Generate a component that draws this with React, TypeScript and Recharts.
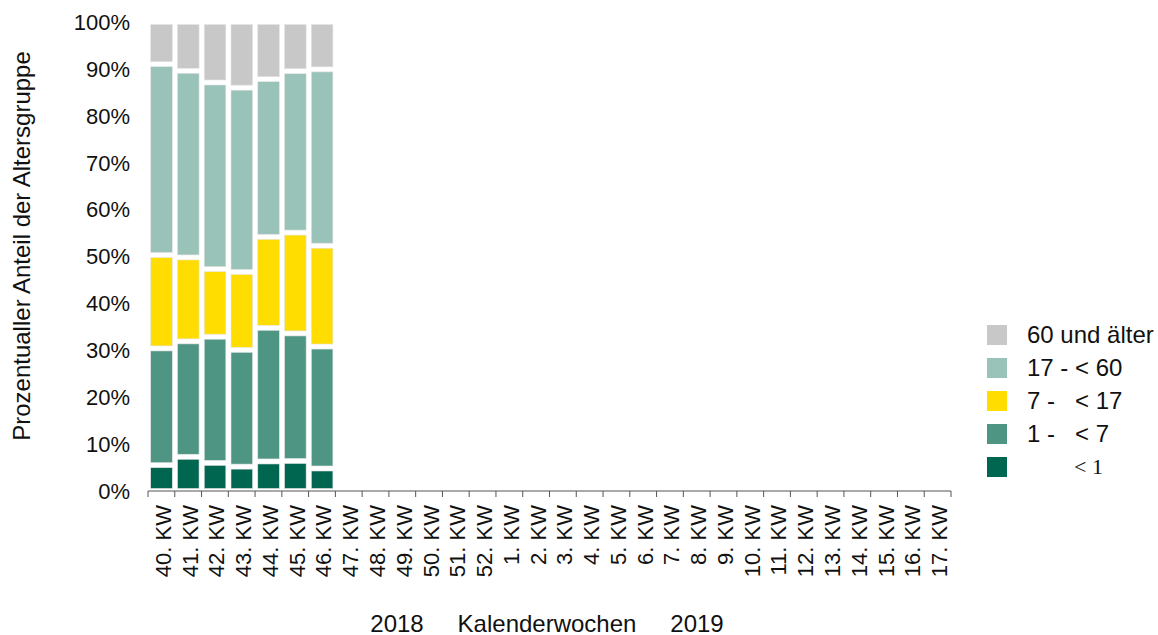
import { BarChart, Bar, XAxis, YAxis } from "recharts";

const WEEKS = [
    "40. KW", "41. KW", "42. KW", "43. KW", "44. KW", "45. KW", "46. KW", "47. KW", "48. KW",
    "49. KW", "50. KW", "51. KW", "52. KW", "1. KW", "2. KW", "3. KW", "4. KW", "5. KW", "6. KW",
    "7. KW", "8. KW", "9. KW", "10. KW", "11. KW", "12. KW", "13. KW", "14. KW", "15. KW",
    "16. KW", "17. KW",
];

// shares in % per age group, only first seven weeks reported
const UNDER_1 = [5.5, 7.3, 6.0, 5.2, 6.3, 6.4, 4.8];
const AGE_1_7 = [24.9, 24.6, 26.9, 24.9, 28.5, 27.2, 26.0];
const AGE_7_17 = [19.9, 17.9, 14.4, 16.6, 19.4, 21.5, 21.5];
const AGE_17_60 = [40.7, 39.8, 39.8, 39.3, 33.6, 34.4, 37.6];
const AGE_60_PLUS = [9.0, 10.4, 12.9, 14.0, 12.2, 10.5, 10.1];

const Y_TICKS = [0, 10, 20, 30, 40, 50, 60, 70, 80, 90, 100];

const SERIES = [
    { key: "u1", label: "< 1", color: "#006650", values: UNDER_1 },
    { key: "a1", label: "1 -   < 7", color: "#4f9584", values: AGE_1_7 },
    { key: "a7", label: "7 -   < 17", color: "#ffdd00", values: AGE_7_17 },
    { key: "a17", label: "17 - < 60", color: "#99c2b8", values: AGE_17_60 },
    { key: "a60", label: "60 und älter", color: "#c8c8c8", values: AGE_60_PLUS },
];

const data = WEEKS.map((week, i) => {
    const row: Record<string, string | number | null> = { week };
    SERIES.forEach((s) => {
        row[s.key] = s.values[i] ?? null;
    });
    return row;
});

const FONT = '"Liberation Sans", Arial, sans-serif';
const W = 1158;
const H = 635;
const M = { top: 22, right: 207, left: 78, bottom: 0 };
const Y_W = 70;
const PLOT_W = W - M.left - M.right - Y_W;
const BAND = PLOT_W / WEEKS.length;

const GapBar = (props: any) => {
    const { x, y, width, height, fill } = props;
    if (!height || height <= 0) return null;
    return (
        <rect
            x={x + 2.7}
            y={y + 2.5}
            width={Math.max(0, width - 5.4)}
            height={Math.max(0, height - 5)}
            fill={fill}
            stroke="#e4e4e4"
            strokeWidth={0.6}
        />
    );
};

const WeekTick = (props: any) => {
    const { x, y, payload, index } = props;
    const ty = y + 14;
    return (
        <g>
            <line x1={x - BAND / 2} x2={x - BAND / 2} y1={y} y2={y + 6} stroke="#555" strokeWidth={1} />
            {index === WEEKS.length - 1 && (
                <line x1={x + BAND / 2} x2={x + BAND / 2} y1={y} y2={y + 6} stroke="#555" strokeWidth={1} />
            )}
            <text
                x={x}
                y={ty}
                transform={`rotate(-90, ${x}, ${ty})`}
                textAnchor="end"
                dy="0.43em"
                fontSize={22}
                fontFamily={FONT}
                fill="#111"
            >
                {payload.value}
            </text>
        </g>
    );
};

const AgeLegend = () => (
    <div style={{ position: "absolute", left: 987, top: 318, fontFamily: FONT, fontSize: 24, color: "#111" }}>
        {[...SERIES].reverse().map((s) => (
            <div key={s.key} style={{ display: "flex", alignItems: "center", height: 33 }}>
                <span style={{ width: 20, height: 20, background: s.color, display: "inline-block", marginRight: 20 }} />
                <span
                    style={{
                        whiteSpace: "pre",
                        fontFamily: s.key === "u1" ? '"Liberation Serif", "Times New Roman", serif' : FONT,
                        fontSize: s.key === "u1" ? 22 : 24,
                        paddingLeft: s.key === "u1" ? 47 : 0,
                    }}
                >
                    {s.label}
                </span>
            </div>
        ))}
    </div>
);

export default function App() {
    return (
        <div style={{ position: "absolute", left: 0, top: 0, width: W, height: H, background: "#fff" }}>
            <BarChart width={W} height={H} data={data} margin={M} barCategoryGap={0}>
                <XAxis
                    dataKey="week"
                    interval={0}
                    height={H - 491}
                    tickSize={0}
                    tickMargin={0}
                    tickLine={false}
                    axisLine={{ stroke: "#555", strokeWidth: 1 }}
                    tick={<WeekTick />}
                />
                <YAxis
                    width={Y_W}
                    domain={[0, 100]}
                    ticks={Y_TICKS}
                    tickFormatter={(v) => `${v}%`}
                    axisLine={false}
                    tickLine={false}
                    tickMargin={12}
                    tick={{ fontSize: 22, fontFamily: FONT, fill: "#111" }}
                    allowDataOverflow
                />
                {SERIES.map((s) => (
                    <Bar
                        key={s.key}
                        dataKey={s.key}
                        name={s.label}
                        stackId="a"
                        fill={s.color}
                        shape={<GapBar />}
                        isAnimationActive={false}
                    />
                ))}
            </BarChart>
            <AgeLegend />
            <div
                style={{
                    position: "absolute",
                    left: 22,
                    top: 246,
                    transform: "translate(-50%, -50%) rotate(-90deg)",
                    whiteSpace: "nowrap",
                    fontFamily: FONT,
                    fontSize: 24,
                    color: "#111",
                }}
            >
                Prozentualler Anteil der Altersgruppe
            </div>
            {[
                { text: "2018", cx: 397 },
                { text: "Kalenderwochen", cx: 547 },
                { text: "2019", cx: 697 },
            ].map((t) => (
                <div
                    key={t.text}
                    style={{
                        position: "absolute",
                        left: t.cx,
                        top: 624,
                        transform: "translate(-50%, -50%)",
                        whiteSpace: "nowrap",
                        fontFamily: FONT,
                        fontSize: 24,
                        color: "#111",
                    }}
                >
                    {t.text}
                </div>
            ))}
        </div>
    );
}
